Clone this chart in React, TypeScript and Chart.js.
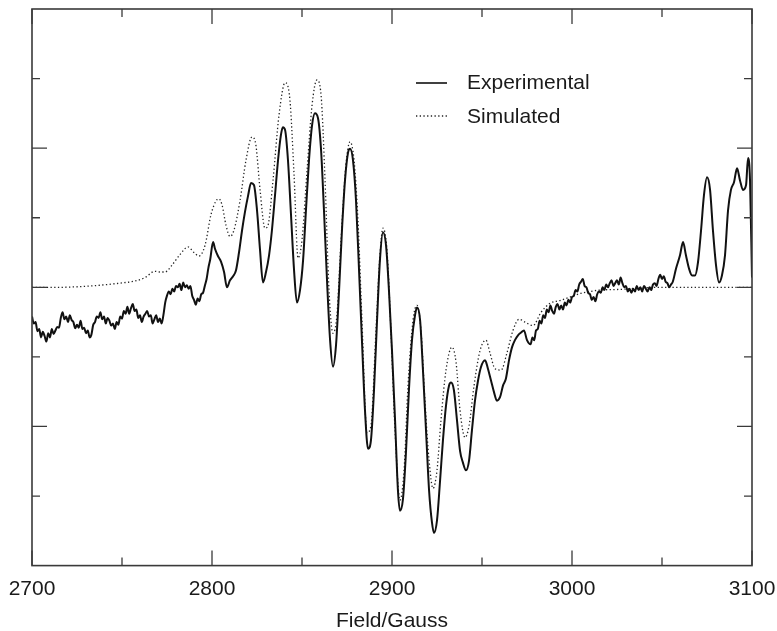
import React, { useEffect, useRef } from "react";
import { Chart, registerables } from "chart.js";

Chart.register(...registerables);

// Experimental spectrum (Field in Gauss, intensity in arbitrary units)
const expField = [
  2700, 2701, 2702, 2703, 2704, 2705, 2706, 2707, 2708, 2709, 2710, 2711, 2712, 2713, 2714, 2715, 2716, 2717, 2718, 2719,
  2720, 2721, 2722, 2723, 2724, 2725, 2726, 2727, 2728, 2729, 2730, 2731, 2732, 2733, 2734, 2735, 2736, 2737, 2738, 2739,
  2740, 2741, 2742, 2743, 2744, 2745, 2746, 2747, 2748, 2749, 2750, 2751, 2752, 2753, 2754, 2755, 2756, 2757, 2758, 2759,
  2760, 2761, 2762, 2763, 2764, 2765, 2766, 2767, 2768, 2769, 2770, 2771, 2772, 2773, 2774, 2775, 2776, 2777, 2778, 2779,
  2780, 2781, 2782, 2783, 2784, 2785, 2786, 2787, 2788, 2789, 2790, 2791, 2792, 2793, 2794, 2795, 2796, 2797, 2798, 2799,
  2800.6, 2801.7, 2803.3, 2805, 2806.7, 2808.3, 2810, 2811.7, 2813.3, 2815, 2816.7, 2818.3, 2820,
  2821.7, 2823.3, 2825, 2826.7, 2828.3, 2830, 2831.7, 2833.3, 2835, 2836.7, 2838.3, 2839.4, 2840.6, 2842.2, 2843.9,
  2845.6, 2847.2, 2848.9, 2850.6, 2852.2, 2853.9, 2855.6, 2857.2, 2858.9, 2860.6, 2862.2, 2863.9, 2865.6, 2867.2,
  2868.9, 2870.6, 2872.2, 2873.9, 2875.6, 2876.7, 2878.3, 2880, 2881.7, 2883.3, 2885, 2886.7, 2888.3, 2890, 2891.7,
  2893.3, 2895, 2896.7, 2898.3, 2900, 2901.7, 2903.3, 2904.4, 2906.1, 2907.8, 2909.4, 2911.1, 2912.8, 2913.9, 2915.6,
  2917.2, 2918.9, 2920.6, 2922.2, 2923.3, 2925, 2926.7, 2928.3, 2930, 2931.7, 2932.8, 2934.4, 2936.1, 2937.8, 2939.4,
  2941.1, 2942.8, 2944.4, 2946.1, 2947.8, 2949.4, 2951.7, 2953.3, 2955, 2956.7, 2958.3, 2960, 2961.7, 2963.3, 2965,
  2966.7, 2968.3, 2970, 2971.7, 2973.3, 2975,
  2977, 2978, 2979, 2980, 2981, 2982, 2983, 2984, 2985, 2986, 2987, 2988, 2989, 2990, 2991, 2992, 2993, 2994, 2995, 2996,
  2997, 2998, 2999, 3000, 3001, 3002, 3003, 3004, 3005, 3006, 3007, 3008, 3009, 3010, 3011, 3012, 3013, 3014, 3015, 3016,
  3017, 3018, 3019, 3020, 3021, 3022, 3023, 3024, 3025, 3026, 3027, 3028, 3029, 3030, 3031, 3032, 3033, 3034, 3035, 3036,
  3037, 3038, 3039, 3040, 3041, 3042, 3043, 3044, 3045, 3046, 3047, 3048, 3049, 3050, 3051, 3052, 3053, 3054, 3055, 3056,
  3057.8, 3060, 3061.7, 3063.3, 3065, 3066.7, 3068.3, 3070, 3071.7, 3073.3, 3075, 3076.7, 3078.3, 3080,
  3081.7, 3083.3, 3085, 3086.7, 3088.3, 3090, 3091.7, 3093.3, 3095, 3096.7, 3097.8, 3098.9, 3100,
];
const expIntensity = [
  -0.42, -0.52, -0.5, -0.63, -0.6, -0.72, -0.64, -0.7, -0.78, -0.66, -0.72, -0.6, -0.67, -0.62, -0.57, -0.58, -0.44, -0.36, -0.46, -0.42,
  -0.5, -0.4, -0.47, -0.5, -0.59, -0.54, -0.58, -0.48, -0.6, -0.58, -0.66, -0.62, -0.72, -0.68, -0.54, -0.5, -0.42, -0.44, -0.36, -0.46,
  -0.42, -0.52, -0.44, -0.48, -0.55, -0.52, -0.6, -0.5, -0.54, -0.42, -0.45, -0.34, -0.38, -0.28, -0.38, -0.3, -0.24, -0.34, -0.32, -0.44,
  -0.4, -0.5, -0.42, -0.38, -0.34, -0.42, -0.4, -0.52, -0.46, -0.4, -0.5, -0.45, -0.52, -0.4, -0.22, -0.12, -0.06, -0.1, -0.02, -0.06,
  0.02, 0.0, 0.05, -0.04, 0.07, 0.0, 0.03, -0.02, 0.02, -0.12, -0.18, -0.25, -0.16, -0.2, -0.1, -0.08, 0.02, 0.12, 0.28, 0.4,
  0.65, 0.55, 0.45, 0.37, 0.22, 0.0, 0.1, 0.16, 0.24, 0.5, 0.82, 1.08, 1.31,
  1.5, 1.47, 1.11, 0.53, 0.07, 0.22, 0.46, 0.82, 1.32, 1.83, 2.19, 2.3, 2.26, 1.83, 1.04,
  0.24, -0.22, -0.04, 0.39, 1.11, 1.83, 2.33, 2.5, 2.43, 1.97, 1.11, 0.1, -0.76, -1.14,
  -0.83, -0.04, 0.82, 1.54, 1.94, 1.99, 1.83, 1.25, 0.24, -0.76, -1.77, -2.32, -2.2, -1.48, -0.47,
  0.39, 0.79, 0.6, -0.04, -0.91, -1.91, -2.92, -3.21, -3.04, -2.35, -1.48, -0.76, -0.4, -0.29, -0.47,
  -1.19, -2.06, -2.92, -3.38, -3.53, -3.35, -2.78, -2.2, -1.7, -1.41, -1.37, -1.48, -1.91, -2.35, -2.52,
  -2.63, -2.49, -2.06, -1.63, -1.34, -1.15, -1.05, -1.17, -1.34, -1.51, -1.63, -1.58, -1.41, -1.31, -1.05,
  -0.86, -0.76, -0.69, -0.65, -0.62, -0.76,
  -0.82, -0.72, -0.76, -0.62, -0.6, -0.48, -0.52, -0.4, -0.44, -0.32, -0.36, -0.26, -0.34, -0.38, -0.28, -0.24, -0.32, -0.26, -0.32, -0.22,
  -0.26, -0.18, -0.22, -0.14, -0.12, -0.04, -0.06, 0.04, 0.08, 0.12, 0.02, 0.0, -0.08, -0.1, -0.18, -0.14, -0.2, -0.1, -0.06, -0.08,
  0.0, -0.04, 0.04, 0.0, 0.06, 0.1, 0.02, 0.06, 0.1, 0.04, 0.14, 0.06, 0.0, 0.02, -0.06, -0.02, -0.08, -0.02, -0.06, 0.02,
  -0.04, 0.0, -0.06, 0.02, -0.02, -0.06, 0.0, -0.04, 0.04, 0.06, 0.02, 0.12, 0.18, 0.12, 0.16, 0.08, 0.06, 0.0, 0.04, 0.08,
  0.27, 0.46, 0.65, 0.46, 0.27, 0.17, 0.17, 0.36, 0.82, 1.32, 1.58, 1.4, 0.82, 0.32,
  0.07, 0.17, 0.46, 1.11, 1.4, 1.51, 1.71, 1.54, 1.4, 1.47, 1.86, 1.54, 0.14,
];

// Simulated spectrum
const simField = [
  2700, 2715.6, 2726.7, 2737.8, 2748.9, 2757.2, 2762.8, 2768.3, 2771.1, 2773.9, 2777.8, 2782.2, 2786.7, 2790,
  2792.8, 2796.1, 2799.4, 2802.2, 2803.9, 2805.6, 2807.8, 2810, 2812.2, 2815.6, 2818.9, 2822.2, 2824.4, 2826.7,
  2829.4, 2831.1, 2833.9, 2837.2, 2840.6, 2843.3, 2845.6, 2847.8, 2850, 2852.8, 2855.6, 2858.3, 2860.6, 2862.8,
  2865, 2867.2, 2869.4, 2871.7, 2874.4, 2876.7, 2878.9, 2881.1, 2883.3, 2886.1, 2888.3, 2891.1, 2893.3, 2895,
  2897.2, 2899.4, 2901.7, 2904.4, 2906.7, 2908.9, 2911.7, 2913.9, 2916.1, 2918.3, 2920.6, 2922.8, 2925, 2927.2,
  2930, 2933.3, 2935.6, 2937.8, 2940.6, 2942.8, 2945.6, 2948.9, 2952.2, 2954.4, 2957.2, 2960.6, 2963.9, 2967.2,
  2970.6, 2973.9, 2978.3, 2982.8, 2987.8, 2993.3, 2998.9, 3004.4, 3010, 3015.6, 3026.7, 3037.8, 3048.9, 3071.1, 3100,
];
const simIntensity = [
  0, 0, 0.01, 0.03, 0.06, 0.09, 0.14, 0.23, 0.22, 0.22, 0.32, 0.47, 0.58, 0.5,
  0.45, 0.6, 1.04, 1.24, 1.27, 1.18, 0.89, 0.73, 0.82, 1.25, 1.83, 2.16, 2.04, 1.4,
  0.85, 0.89, 1.54, 2.47, 2.94, 2.69, 1.61, 0.42, 0.68, 1.68, 2.62, 2.98, 2.76, 1.54,
  -0.04, -0.66, -0.4, 0.68, 1.76, 2.09, 1.83, 0.96, -0.47, -2.09, -1.99, -0.62, 0.46, 0.85,
  0.53, -0.62, -2.06, -3.06, -2.63, -1.41, -0.47, -0.26, -0.62, -1.63, -2.49, -2.89, -2.63, -1.91,
  -1.19, -0.86, -1.08, -1.77, -2.16, -1.99, -1.41, -0.91, -0.76, -0.94, -1.17, -1.19, -0.94, -0.62,
  -0.46, -0.5, -0.55, -0.36, -0.23, -0.19, -0.14, -0.09, -0.06, -0.04, -0.03, -0.01, 0, 0, 0,
];

const xMajorTicks = [2700, 2800, 2900, 3000, 3100];
const xMinorTicks = [2750, 2850, 2950, 3050];
const yMajorTicks = [-2, 0, 2];
const yMinorTicks = [-3, -1, 1, 3];

const seriesLabels = ["Experimental", "Simulated"];
const FONT = "'Liberation Sans', Arial, Helvetica, sans-serif";
const INK = "#1a1a1a";
const FRAME = "#3a3a3a";

const framePlugin = {
  id: "frameTicks",
  afterDatasetsDraw(chart: any) {
    const { ctx, chartArea: a, scales } = chart;
    const xs = scales.x;
    const ys = scales.y;
    ctx.save();
    ctx.strokeStyle = FRAME;
    ctx.lineWidth = 1.6;
    ctx.strokeRect(a.left, a.top, a.right - a.left, a.bottom - a.top);
    ctx.lineWidth = 1.3;
    const tick = (vals: number[], len: number) => {
      vals.forEach((v) => {
        const px = xs.getPixelForValue(v);
        ctx.beginPath();
        ctx.moveTo(px, a.bottom);
        ctx.lineTo(px, a.bottom - len);
        ctx.moveTo(px, a.top);
        ctx.lineTo(px, a.top + len);
        ctx.stroke();
      });
    };
    const ytick = (vals: number[], len: number) => {
      vals.forEach((v) => {
        const py = ys.getPixelForValue(v);
        ctx.beginPath();
        ctx.moveTo(a.left, py);
        ctx.lineTo(a.left + len, py);
        ctx.moveTo(a.right, py);
        ctx.lineTo(a.right - len, py);
        ctx.stroke();
      });
    };
    tick(xMajorTicks, 15);
    tick(xMinorTicks, 8);
    ytick(yMajorTicks, 15);
    ytick(yMinorTicks, 8);

    // legend
    const ds = chart.data.datasets;
    const rows = [
      { y: 83, base: 89 },
      { y: 116, base: 123 },
    ];
    ds.forEach((d: any, i: number) => {
      ctx.beginPath();
      ctx.strokeStyle = d.borderColor;
      ctx.lineWidth = i === 0 ? 1.6 : 1.3;
      ctx.setLineDash(d.borderDash || []);
      ctx.moveTo(416, rows[i].y);
      ctx.lineTo(447, rows[i].y);
      ctx.stroke();
      ctx.setLineDash([]);
      ctx.fillStyle = INK;
      ctx.font = `21px ${FONT}`;
      ctx.textBaseline = "alphabetic";
      ctx.textAlign = "left";
      ctx.fillText(d.label, 467, rows[i].base);
    });
    ctx.restore();
  },
};

export default function App() {
  const ref = useRef<HTMLCanvasElement | null>(null);
  useEffect(() => {
    if (!ref.current) return;
    const chart = new Chart(ref.current, {
      type: "line",
      data: {
        datasets: [
          {
            label: seriesLabels[0],
            data: expField.map((x, i) => ({ x, y: expIntensity[i] })),
            borderColor: "#111111",
            borderWidth: 2,
            pointRadius: 0,
            cubicInterpolationMode: "monotone",
            fill: false,
          },
          {
            label: seriesLabels[1],
            data: simField.map((x, i) => ({ x, y: simIntensity[i] })),
            borderColor: "#222222",
            borderWidth: 1.3,
            borderDash: [1.3, 2.4],
            pointRadius: 0,
            cubicInterpolationMode: "monotone",
            fill: false,
          },
        ],
      },
      options: {
        responsive: false,
        animation: false,
        layout: { padding: { left: 32, right: 25, top: 9, bottom: -3 } },
        plugins: { legend: { display: false }, tooltip: { enabled: false } },
        scales: {
          x: {
            type: "linear",
            min: 2700,
            max: 3100,
            afterBuildTicks: (s: any) => {
              s.ticks = xMajorTicks.map((v) => ({ value: v }));
            },
            ticks: {
              callback: (v: any) => String(v),
              color: INK,
              font: { family: FONT, size: 21 },
              padding: 0,
              maxRotation: 0,
              autoSkip: false,
            },
            grid: {
              display: true,
              drawOnChartArea: false,
              drawTicks: true,
              tickLength: 11,
              color: "rgba(0,0,0,0)",
            },
            border: { display: false },
            title: {
              display: true,
              text: "Field/Gauss",
              color: INK,
              font: { family: FONT, size: 21 },
              padding: { top: 7, bottom: 0 },
            },
          },
          y: {
            type: "linear",
            min: -4,
            max: 4,
            display: false,
          },
        },
      },
      plugins: [framePlugin],
    });
    return () => chart.destroy();
  }, []);
  return (
    <div style={{ position: "fixed", left: 0, top: 0, width: 777, height: 631, background: "#fff" }}>
      <canvas ref={ref} width={777} height={631} style={{ display: "block" }} />
    </div>
  );
}
